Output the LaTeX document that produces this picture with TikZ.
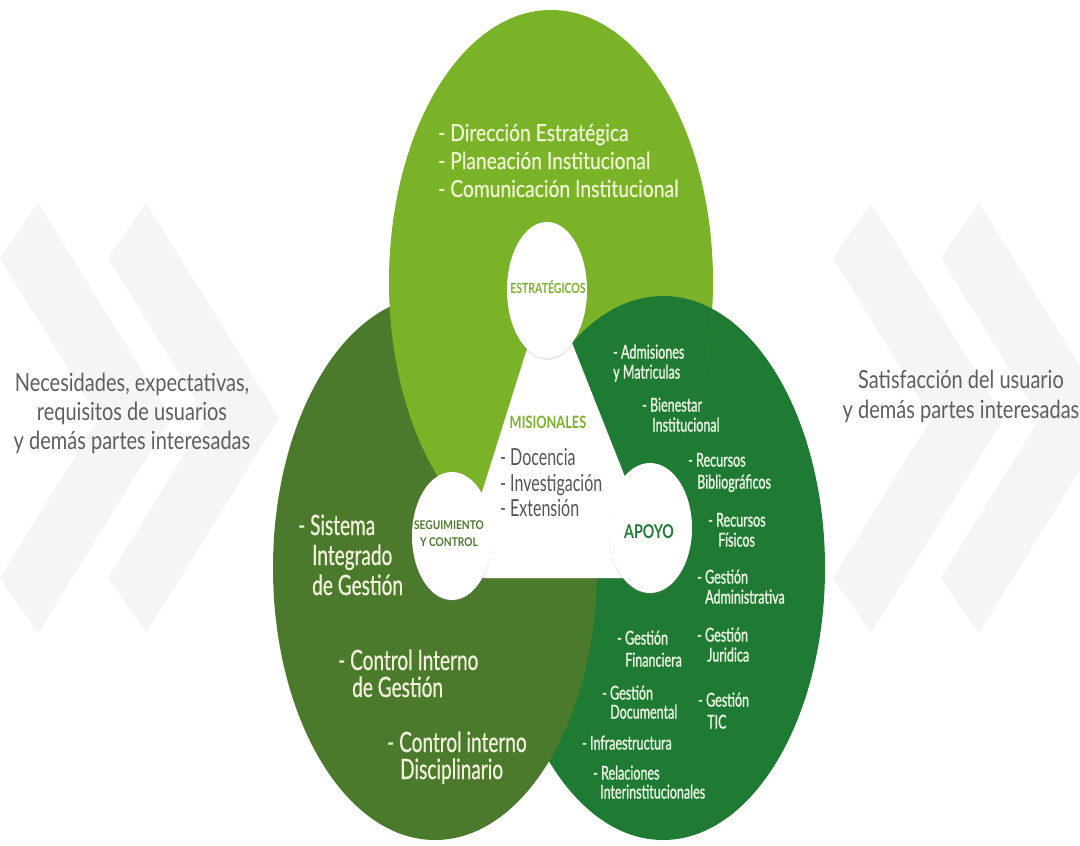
\documentclass[tikz,border=0pt]{standalone}
\usepackage{fontspec}
\setmainfont{Lato}
\newfontfamily\fA[FakeStretch=0.68, FakeBold=0.6]{Lato}
\newfontfamily\fD[FakeStretch=0.66, FakeBold=1.2]{Lato}
\newfontfamily\fT[FakeStretch=0.82, FakeBold=0.6]{Lato}
\newfontfamily\fM[FakeStretch=0.68]{Lato}
\newfontfamily\fG[FakeStretch=0.80]{Lato}
\newfontfamily\fH[FakeStretch=0.75]{Lato}
\newfontfamily\fS[FakeStretch=0.85]{Lato}
\usetikzlibrary{shadows}
\definecolor{lgreen}{HTML}{7AB328}
\definecolor{ogreen}{HTML}{4B7A2C}
\definecolor{dgreen}{HTML}{1F7A33}
\definecolor{creamL}{HTML}{EEF3D2}
\definecolor{creamO}{HTML}{F2F2DC}
\definecolor{creamD}{HTML}{E8F3E2}
\definecolor{graytxt}{HTML}{5E5E5E}
\definecolor{midgray}{HTML}{555555}
\definecolor{chev}{HTML}{F5F5F7}
\begin{document}
\begin{tikzpicture}[x=1pt,y=-1pt,
  chevron/.style={fill=chev},
  ltxt/.style={font=\fT\fontsize{23.5}{28}\selectfont, text=creamL, anchor=base west, inner sep=0},
  otxt/.style={font=\fA\fontsize{28}{30}\selectfont, text=creamO, anchor=base west, inner sep=0},
  dtxt/.style={font=\fD\fontsize{19}{20}\selectfont, text=creamD, anchor=base west, inner sep=0},
  mtxt/.style={font=\fM\fontsize{23.5}{25}\selectfont, text=midgray, anchor=base west, inner sep=0},
  gtxt/.style={font=\fG\fontsize{25}{30}\selectfont, text=graytxt, anchor=base, inner sep=0},
  hub/.style={fill=white, drop shadow={opacity=0.18, shadow xshift=0pt, shadow yshift=-2pt}},
  hubtxt/.style={inner sep=0, align=center}
]
\useasboundingbox (0,0) rectangle (1080,846);
\fill[white] (0,0) rectangle (1080,846);

% chevrons
\foreach \a in {0,108,833,941}{
  \fill[chevron] (\a,258) -- (\a+38,203) -- (\a+171,418) -- (\a+38,633) -- (\a,578) -- (\a+99,418) -- cycle;
}

% side texts
\node[gtxt] (in1) at (132,391) {Necesidades, expectativas,};
\node[gtxt] (in2) at (132,420) {requisitos de usuarios};
\node[gtxt] (in3) at (132,449) {y demás partes interesadas};
\node[gtxt] (out1) at (961,388) {Satisfacción del usuario};
\node[gtxt] (out2) at (961,418) {y demás partes interesadas};

% ellipses (cyclic overlap)
\fill[dgreen] (663,568) ellipse [x radius=162pt, y radius=272pt];
\fill[ogreen] (435,568) ellipse [x radius=162pt, y radius=272pt];
\fill[lgreen] (551,282) ellipse [x radius=162pt, y radius=272pt];
\begin{scope}
  \clip (551,282) ellipse [x radius=162pt, y radius=272pt];
  \fill[dgreen] (663,568) ellipse [x radius=162pt, y radius=272pt];
\end{scope}

% central triangle
\fill[white, drop shadow={opacity=0.15, shadow xshift=0pt, shadow yshift=-2pt}] (548,282) -- (455,578) -- (665,578) -- cycle;

% hub circles
\fill[hub] (547,290) ellipse [x radius=40pt, y radius=68pt];
\fill[hub] (452,536) ellipse [x radius=40pt, y radius=64pt];
\fill[hub] (650,528) ellipse [x radius=42pt, y radius=65pt];

\node[hubtxt, text=lgreen, font=\fH\bfseries\fontsize{14}{15}\selectfont] (est) at (548,287) {ESTRATÉGICOS};
\node[hubtxt, text=ogreen, font=\fS\bfseries\fontsize{12}{17}\selectfont] (seg) at (449,534) {SEGUIMIENTO\\Y CONTROL};
\node[hubtxt, text=dgreen, font=\fH\bfseries\fontsize{19}{20}\selectfont] (apo) at (649,532) {APOYO};
\node[hubtxt, text=lgreen, font=\fH\bfseries\fontsize{17}{18}\selectfont] (mis) at (548,422) {MISIONALES};

% estrategicos list
\node[ltxt] (e1) at (438,141) {- Dirección Estratégica};
\node[ltxt] (e2) at (438,169) {- Planeación Institucional};
\node[ltxt] (e3) at (438,197) {- Comunicación Institucional};

% misionales list
\node[mtxt] (m1) at (500,465) {- Docencia};
\node[mtxt] (m2) at (500,491) {- Investigación};
\node[mtxt] (m3) at (500,516) {- Extensión};

% seguimiento list
\node[otxt] (s1) at (298,535) {- Sistema};
\node[otxt] (s2) at (312,565) {Integrado};
\node[otxt] (s3) at (312,595) {de Gestión};
\node[otxt] (s4) at (338,670) {- Control Interno};
\node[otxt] (s5) at (352,697) {de Gestión};
\node[otxt] (s6) at (387,752) {- Control interno};
\node[otxt] (s7) at (400,779) {Disciplinario};

% apoyo list
\node[dtxt] (a1) at (613,358.5) {- Admisiones};
\node[dtxt] (a2) at (613,378.5) {y Matriculas};
\node[dtxt] (a3) at (642,411.5) {- Bienestar};
\node[dtxt] (a4) at (652,431.5) {Institucional};
\node[dtxt] (a5) at (688,466.5) {- Recursos};
\node[dtxt] (a6) at (697,488.5) {Bibliográficos};
\node[dtxt] (a7) at (708,526.5) {- Recursos};
\node[dtxt] (a8) at (718,546.5) {Físicos};
\node[dtxt] (a9) at (697,583.5) {- Gestión};
\node[dtxt] (a10) at (705,603.5) {Administrativa};
\node[dtxt] (a11) at (617,644.5) {- Gestión};
\node[dtxt] (a12) at (625,666.5) {Financiera};
\node[dtxt] (a13) at (697,641.5) {- Gestión};
\node[dtxt] (a14) at (707,661.5) {Juridica};
\node[dtxt] (a15) at (602,699.5) {- Gestión};
\node[dtxt] (a16) at (610,718.5) {Documental};
\node[dtxt] (a17) at (698,706.5) {- Gestión};
\node[dtxt] (a18) at (707,728.5) {TIC};
\node[dtxt] (a19) at (582,749.5) {- Infraestructura};
\node[dtxt] (a20) at (593,779.5) {- Relaciones};
\node[dtxt] (a21) at (600,798.5) {Interinstitucionales};
\end{tikzpicture}
\end{document}
